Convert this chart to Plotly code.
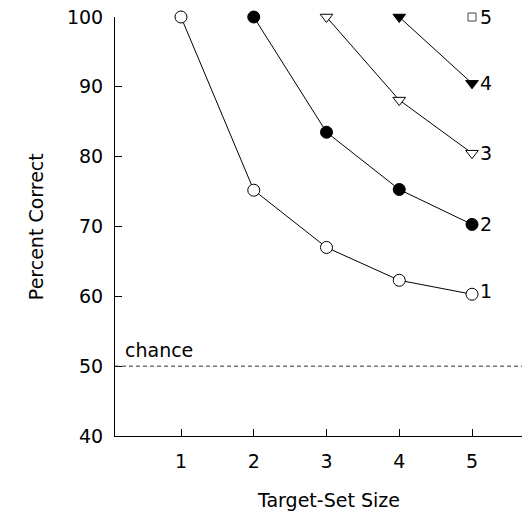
import plotly.graph_objects as go

# ---- data ----
set_sizes = [1, 2, 3, 4, 5]
series_names = ["1", "2", "3", "4", "5"]
series_x = [
    [1, 2, 3, 4, 5],
    [2, 3, 4, 5],
    [3, 4, 5],
    [4, 5],
    [5],
]
series_y = [
    [100, 75.2, 67.0, 62.3, 60.3],
    [100, 83.5, 75.3, 70.3],
    [100, 88.1, 80.5],
    [100, 90.5],
    [100],
]
chance_level = 50
y_ticks = [40, 50, 60, 70, 80, 90, 100]

# ---- styles ----
FONT = "DejaVu Sans"
marker_styles = [
    dict(symbol="circle", size=12, color="white", line=dict(color="black", width=1)),
    dict(symbol="circle", size=12, color="black", line=dict(color="black", width=1)),
    dict(symbol="triangle-down", size=11, color="white", line=dict(color="black", width=1)),
    dict(symbol="triangle-down", size=11, color="black", line=dict(color="black", width=1)),
    dict(symbol="square", size=8, color="white", line=dict(color="#444", width=1)),
]
label_yshift = [3, 0, 0, 0, 0]

fig = go.Figure()
for name, xs, ys, ms in zip(series_names, series_x, series_y, marker_styles):
    fig.add_trace(go.Scatter(
        x=xs, y=ys, mode="lines+markers", name=name,
        line=dict(color="black", width=1),
        marker=ms, cliponaxis=False, showlegend=False,
    ))

# series labels at last point
for name, xs, ys, dy in zip(series_names, series_x, series_y, label_yshift):
    fig.add_annotation(
        x=xs[-1], y=ys[-1], text=name, showarrow=False,
        xanchor="left", yanchor="middle", xshift=6, yshift=dy,
        font=dict(family=FONT, size=19, color="black"),
    )

# chance line
fig.add_shape(type="line", xref="paper", x0=0, x1=1, yref="y",
              y0=chance_level, y1=chance_level,
              line=dict(color="#333", width=1, dash="4px,3px"))
fig.add_annotation(x=0.203, y=chance_level + 2.3, text="chance", showarrow=False,
                   xanchor="left", yanchor="middle",
                   font=dict(family=FONT, size=19, color="black"))

# axis titles
fig.add_annotation(x=3.03, xref="x", y=-0.152, yref="paper", text="Target-Set Size",
                   showarrow=False, xanchor="center", yanchor="middle",
                   font=dict(family=FONT, size=19, color="black"))
fig.add_annotation(x=-0.195, xref="paper", y=0.5, yref="paper", text="Percent Correct",
                   showarrow=False, textangle=-90, xanchor="center", yanchor="middle",
                   font=dict(family=FONT, size=19, color="black"))

fig.update_xaxes(
    range=[0.0928, 5.687], tickvals=set_sizes, ticktext=[str(v) for v in set_sizes],
    ticks="inside", ticklen=7, tickcolor="black", tickwidth=1,
    showline=True, linecolor="black", linewidth=1,
    showgrid=False, zeroline=False, ticklabelstandoff=8,
    tickfont=dict(family=FONT, size=19, color="black"),
)
fig.update_yaxes(
    range=[40, 100], tickvals=y_ticks, ticktext=[str(v) for v in y_ticks],
    ticks="inside", ticklen=7, tickcolor="black", tickwidth=1,
    showline=True, linecolor="black", linewidth=1,
    showgrid=False, zeroline=False, ticklabelstandoff=7,
    tickfont=dict(family=FONT, size=19, color="black"),
)
fig.update_layout(
    width=522, height=512,
    margin=dict(l=115, r=0, t=17, b=76),
    plot_bgcolor="white", paper_bgcolor="white",
)
fig.write_html("out.html", config={"displayModeBar": False},
               post_script="document.body.style.margin='0';document.body.style.overflow='hidden';")
